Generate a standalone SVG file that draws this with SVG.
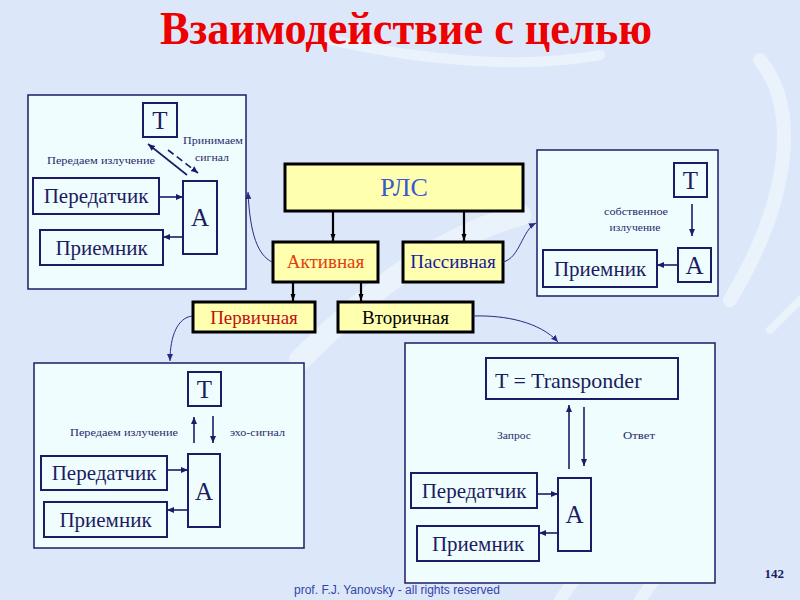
<svg xmlns="http://www.w3.org/2000/svg" width="800" height="600" viewBox="0 0 800 600" font-family="'Liberation Serif','Times New Roman',serif">
<style>
.bg{fill:#dce8fa}
.deco{fill:none;stroke:#eef4fd;stroke-linecap:round;opacity:0.8}
.panel{fill:#f0fdff;stroke:#1c1c66;stroke-width:1.5}
.box{fill:#f0fdff;stroke:#1c1c66;stroke-width:2}
.ybox{fill:#ffffb0;stroke:#000;stroke-width:3}
.t{font-family:'Liberation Serif','Times New Roman',serif;fill:#1c1c5e;text-anchor:middle}
.big{font-size:21px}
.let{font-size:25px}
.sm{font-size:11px;fill:#2a2a6a}
.mid{font-size:19px}
.ln{stroke:#1c1c66;stroke-width:1.6;fill:none}
.cl{stroke:#000;stroke-width:2.2;fill:none}
.cv{stroke:#2a2a80;stroke-width:1;fill:none}
</style>
<defs>
<marker id="ah" markerWidth="8" markerHeight="8" refX="7" refY="4" orient="auto" markerUnits="userSpaceOnUse">
<path d="M0,1 L7,4 L0,7 Z" fill="#1c1c66"/>
</marker>
<marker id="ahk" markerWidth="8" markerHeight="8" refX="7" refY="4" orient="auto" markerUnits="userSpaceOnUse">
<path d="M0,1.5 L7,4 L0,6.5 Z" fill="#000"/>
</marker>
<marker id="ahc" markerWidth="8" markerHeight="8" refX="7" refY="4" orient="auto" markerUnits="userSpaceOnUse">
<path d="M0,1 L7,4 L0,7 Z" fill="#2a2a80"/>
</marker>
</defs>
<rect class="bg" x="0" y="0" width="800" height="600"/>
<g id="background-swirl">
<path class="deco" stroke-width="22" d="M300,360 C360,300 430,240 520,215"/>
<path class="deco" stroke-width="14" d="M760,60 C800,110 790,200 730,300"/>
<path class="deco" stroke-width="10" d="M330,40 C420,60 520,70 600,55"/>
<path class="deco" stroke-width="12" d="M560,600 L610,530"/>
<path class="deco" stroke-width="12" d="M640,600 L690,530"/>
<path class="deco" stroke-width="8" d="M770,330 L800,300"/>
</g>

<text x="406" y="44" font-family="'Liberation Serif','Times New Roman',serif" font-weight="bold" font-size="46" fill="#ee0000" text-anchor="middle" textLength="492" lengthAdjust="spacingAndGlyphs">Взаимодействие с целью</text>

<g id="panel-active-general">
<rect class="panel" x="28" y="95" width="218" height="194"/>
<rect class="box" x="143" y="103" width="34" height="34"/>
<text class="t let" x="160" y="129">Т</text>
<text class="t sm" x="101" y="164" textLength="108" lengthAdjust="spacingAndGlyphs">Передаем излучение</text>
<text class="t sm" x="213" y="144" textLength="60" lengthAdjust="spacingAndGlyphs">Принимаем</text>
<text class="t sm" x="212" y="161" textLength="34" lengthAdjust="spacingAndGlyphs">сигнал</text>
<rect class="box" x="33" y="178" width="126" height="36"/>
<text class="t big" x="96" y="203">Передатчик</text>
<rect class="box" x="40" y="230" width="123" height="35"/>
<text class="t big" x="101.5" y="255">Приемник</text>
<rect class="box" x="183" y="181" width="34" height="73"/>
<text class="t let" x="200" y="226">А</text>
<line class="ln" x1="187" y1="175" x2="148" y2="144" marker-end="url(#ah)"/>
<line class="ln" x1="168" y1="150" x2="198" y2="173" stroke-dasharray="7,4" marker-end="url(#ah)"/>
<line class="ln" x1="159" y1="197" x2="183" y2="197" marker-end="url(#ah)"/>
<line class="ln" x1="183" y1="237" x2="163" y2="237" marker-end="url(#ah)"/>
</g>

<g id="panel-passive">
<rect class="panel" x="537" y="150" width="181" height="146"/>
<rect class="box" x="674" y="163" width="33" height="34"/>
<text class="t let" x="690.5" y="189">Т</text>
<text class="t sm" x="636" y="215" textLength="64" lengthAdjust="spacingAndGlyphs">собственное</text>
<text class="t sm" x="635" y="231" textLength="51" lengthAdjust="spacingAndGlyphs">излучение</text>
<rect class="box" x="543" y="250" width="114" height="37"/>
<text class="t big" x="600" y="276">Приемник</text>
<rect class="box" x="678" y="248" width="33" height="34"/>
<text class="t let" x="694.5" y="274">А</text>
<line class="ln" x1="692" y1="204" x2="692" y2="236" marker-end="url(#ah)"/>
<line class="ln" x1="678" y1="265" x2="657" y2="265" marker-end="url(#ah)"/>
</g>

<g id="panel-primary">
<rect class="panel" x="34" y="363" width="270" height="185"/>
<rect class="box" x="188" y="372" width="33" height="34"/>
<text class="t let" x="204.5" y="398">Т</text>
<text class="t sm" x="124" y="436" textLength="108" lengthAdjust="spacingAndGlyphs">Передаем излучение</text>
<text class="t sm" x="257.5" y="436" textLength="55" lengthAdjust="spacingAndGlyphs">эхо-сигнал</text>
<rect class="box" x="41" y="456" width="126" height="34"/>
<text class="t big" x="104" y="480">Передатчик</text>
<rect class="box" x="44" y="502" width="123" height="35"/>
<text class="t big" x="105.5" y="527">Приемник</text>
<rect class="box" x="188" y="454" width="32" height="73"/>
<text class="t let" x="204" y="500">А</text>
<line class="ln" x1="194" y1="443" x2="194" y2="417" marker-end="url(#ah)"/>
<line class="ln" x1="213" y1="416" x2="213" y2="443" marker-end="url(#ah)"/>
<line class="ln" x1="167" y1="470" x2="188" y2="470" marker-end="url(#ah)"/>
<line class="ln" x1="188" y1="510" x2="167" y2="510" marker-end="url(#ah)"/>
</g>

<g id="panel-secondary">
<rect class="panel" x="405" y="343" width="310" height="240"/>
<rect class="box" x="486" y="358" width="192" height="41"/>
<text class="t" x="495" y="388" font-size="22" style="text-anchor:start">T = Transponder</text>
<text class="t sm" x="514" y="439" textLength="34" lengthAdjust="spacingAndGlyphs">Запрос</text>
<text class="t sm" x="639" y="439" textLength="32" lengthAdjust="spacingAndGlyphs">Ответ</text>
<rect class="box" x="411" y="473" width="126" height="35"/>
<text class="t big" x="474" y="498">Передатчик</text>
<rect class="box" x="417" y="526" width="122" height="35"/>
<text class="t big" x="478" y="551">Приемник</text>
<rect class="box" x="558" y="478" width="33" height="73"/>
<text class="t let" x="574.5" y="523">А</text>
<line class="ln" x1="569" y1="469" x2="569" y2="405" marker-end="url(#ah)"/>
<line class="ln" x1="584" y1="407" x2="584" y2="466" marker-end="url(#ah)"/>
<line class="ln" x1="537" y1="494" x2="558" y2="494" marker-end="url(#ah)"/>
<line class="ln" x1="558" y1="533" x2="539" y2="533" marker-end="url(#ah)"/>
</g>

<g id="rls">
<rect class="ybox" x="285" y="164" width="238" height="47"/>
<text class="t" x="404" y="196" font-size="26" style="fill:#3a58cc">РЛС</text>
</g>
<g id="active">
<rect class="ybox" x="273" y="242" width="105" height="40"/>
<text class="t mid" x="325.5" y="268" style="fill:#e0400f">Активная</text>
</g>
<g id="passive">
<rect class="ybox" x="403" y="242" width="100" height="40"/>
<text class="t mid" x="453" y="268" style="fill:#1a1a9a">Пассивная</text>
</g>
<g id="primary">
<rect class="ybox" x="193" y="302" width="122" height="30"/>
<text class="t mid" x="254" y="324" style="fill:#c01010">Первичная</text>
</g>
<g id="secondary">
<rect class="ybox" x="338" y="302" width="135" height="30"/>
<text class="t mid" x="405.5" y="324" style="fill:#000">Вторичная</text>
</g>

<g id="connectors">
<line class="cl" x1="333" y1="211" x2="333" y2="241" marker-end="url(#ahk)"/>
<line class="cl" x1="464" y1="211" x2="464" y2="241" marker-end="url(#ahk)"/>
<line class="cl" x1="293" y1="282" x2="293" y2="301" marker-end="url(#ahk)"/>
<line class="cl" x1="361" y1="282" x2="361" y2="301" marker-end="url(#ahk)"/>
<path class="cv" d="M272,262 C258,255 250,235 248,192" marker-end="url(#ahc)"/>
<path class="cv" d="M503,262 C520,258 522,230 536,223" marker-end="url(#ahc)"/>
<path class="cv" d="M192,316 C178,318 170,335 170,361" marker-end="url(#ahc)"/>
<path class="cv" d="M473,316 C505,315 540,322 558,342" marker-end="url(#ahc)"/>
</g>

<text x="784" y="578" font-family="'Liberation Serif','Times New Roman',serif" font-weight="bold" font-size="13" fill="#1c1c5e" text-anchor="end">142</text>
<text x="294" y="594" font-family="'Liberation Sans',Arial,sans-serif" font-size="12" fill="#3344aa" textLength="206" lengthAdjust="spacingAndGlyphs">prof. F.J. Yanovsky - all rights reserved</text>
</svg>
